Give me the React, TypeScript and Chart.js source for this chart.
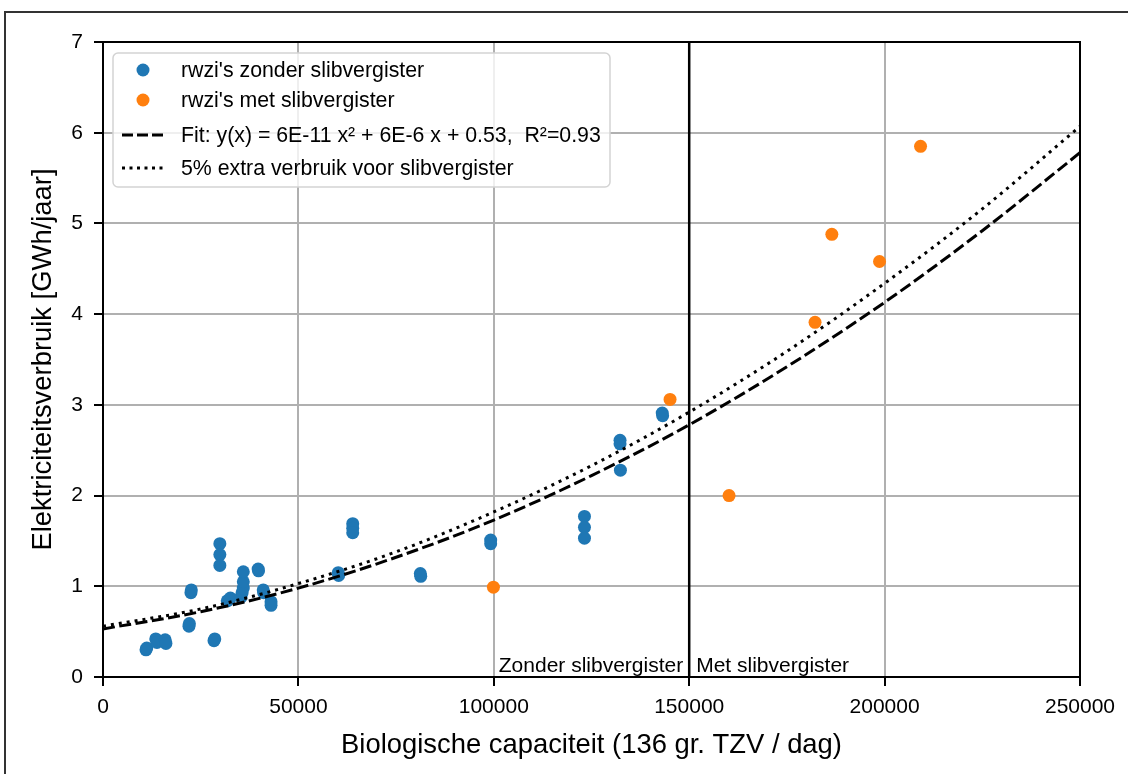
import React, { useEffect, useRef } from "react";
import { Chart, registerables } from "chart.js";

Chart.register(...registerables);

// rwzi's zonder slibvergister
const zonderX = [
  11000, 11200, 13500, 13800, 15900, 16100, 22000, 22100, 22500, 22600,
  28400, 28600, 29900, 29900, 29900, 31800, 32600, 35300, 35600, 35900,
  35900, 35900, 39700, 39800, 41000, 41100, 43000, 43000, 60200, 60300,
  63900, 63900, 63900, 81200, 81300, 99200, 99200, 123200, 123200, 123200,
  132300, 132300, 132400, 143100, 143200,
];
const zonderY = [
  0.30, 0.32, 0.42, 0.38, 0.41, 0.37, 0.56, 0.59, 0.93, 0.96,
  0.40, 0.42, 1.47, 1.35, 1.23, 0.84, 0.87, 0.88, 0.93, 0.98,
  1.05, 1.16, 1.19, 1.17, 0.96, 0.93, 0.83, 0.79, 1.15, 1.12,
  1.69, 1.64, 1.59, 1.14, 1.11, 1.51, 1.47, 1.77, 1.65, 1.53,
  2.61, 2.57, 2.28, 2.91, 2.88,
];

// rwzi's met slibvergister
const metX = [99900, 145100, 160200, 182200, 186500, 198700, 209200];
const metY = [0.99, 3.06, 2.0, 3.91, 4.88, 4.58, 5.85];

// curves
const curveX = [0, 25000, 50000, 75000, 100000, 125000, 150000, 175000, 200000, 225000, 250000];
const fitY = [0.53, 0.72, 0.98, 1.32, 1.73, 2.22, 2.78, 3.42, 4.13, 4.92, 5.78];
const extraY = [0.56, 0.75, 1.03, 1.38, 1.82, 2.33, 2.92, 3.59, 4.34, 5.16, 6.07];

const splitX = 150000;
const xMin = 0;
const xMax = 250000;
const xStep = 50000;
const yMin = 0;
const yMax = 7;
const yStep = 1;

const labelZonder = "rwzi's zonder slibvergister";
const labelMet = "rwzi's met slibvergister";
const labelFit = "Fit: y(x) = 6E-11 x\u00B2 + 6E-6 x + 0.53,  R\u00B2=0.93";
const labelExtra = "5% extra verbruik voor slibvergister";
const leftText = "Zonder slibvergister";
const rightText = "Met slibvergister";
const xTitle = "Biologische capaciteit (136 gr. TZV / dag)";
const yTitle = "Elektriciteitsverbruik [GWh/jaar]";

const FONT = "'Liberation Sans', Arial, Helvetica, sans-serif";
const BLUE = "#1f77b4";
const ORANGE = "#ff7f0e";
const DASH = [12, 4.5];
const DOT = [3, 5];

const framePlugin = {
  id: "frameAndLabels",
  afterDatasetsDraw(chart: any) {
    const { ctx, chartArea } = chart;
    const xs = chart.scales.x;
    ctx.save();
    ctx.strokeStyle = "#000";
    ctx.lineWidth = 2;
    ctx.strokeRect(chartArea.left, chartArea.top, chartArea.right - chartArea.left, chartArea.bottom - chartArea.top);
    const px = xs.getPixelForValue(splitX);
    ctx.fillStyle = "#000";
    ctx.font = `21px ${FONT}`;
    ctx.textBaseline = "alphabetic";
    ctx.textAlign = "right";
    ctx.fillText(leftText, px - 6, chartArea.bottom - 5);
    ctx.textAlign = "left";
    ctx.fillText(rightText, px + 7, chartArea.bottom - 5);
    ctx.restore();
  },
  afterDraw(chart: any) {
    const { ctx, chartArea } = chart;
    const x0 = chartArea.left + 10;
    const y0 = chartArea.top + 11;
    const w = 497;
    const h = 134;
    const r = 5;
    ctx.save();
    ctx.beginPath();
    ctx.moveTo(x0 + r, y0);
    ctx.arcTo(x0 + w, y0, x0 + w, y0 + h, r);
    ctx.arcTo(x0 + w, y0 + h, x0, y0 + h, r);
    ctx.arcTo(x0, y0 + h, x0, y0, r);
    ctx.arcTo(x0, y0, x0 + w, y0, r);
    ctx.closePath();
    ctx.fillStyle = "rgba(255,255,255,0.8)";
    ctx.fill();
    ctx.strokeStyle = "#d3d3d3";
    ctx.lineWidth = 1.5;
    ctx.stroke();

    const rows = [
      { label: labelZonder, kind: "dot", color: BLUE, dy: 28 },
      { label: labelMet, kind: "dot", color: ORANGE, dy: 58 },
      { label: labelFit, kind: "dash", color: "#000", dy: 93 },
      { label: labelExtra, kind: "dot-line", color: "#000", dy: 126 },
    ];
    ctx.font = `21.3px ${FONT}`;
    ctx.textBaseline = "middle";
    ctx.textAlign = "left";
    for (const row of rows) {
      const cy = chartArea.top + row.dy;
      if (row.kind === "dot") {
        ctx.beginPath();
        ctx.fillStyle = row.color;
        ctx.arc(x0 + 30, cy, 6.5, 0, Math.PI * 2);
        ctx.fill();
      } else {
        ctx.beginPath();
        ctx.strokeStyle = row.color;
        ctx.lineWidth = 3;
        ctx.setLineDash(row.kind === "dash" ? [11, 4] : [3, 4.5]);
        ctx.moveTo(x0 + 9, cy);
        ctx.lineTo(x0 + 51, cy);
        ctx.stroke();
        ctx.setLineDash([]);
      }
      ctx.fillStyle = "#000";
      ctx.fillText(row.label, x0 + 68, cy + 1);
    }
    ctx.restore();
  },
};

export default function App() {
  const ref = useRef<HTMLCanvasElement | null>(null);

  useEffect(() => {
    if (!ref.current) return;
    const chart = new Chart(ref.current, {
      type: "scatter",
      data: {
        datasets: [
          {
            label: labelFit,
            data: curveX.map((x, i) => ({ x, y: fitY[i] })),
            showLine: true,
            borderColor: "#000",
            borderWidth: 3,
            borderDash: DASH,
            pointRadius: 0,
            cubicInterpolationMode: "monotone",
            order: 1,
          },
          {
            label: labelExtra,
            data: curveX.map((x, i) => ({ x, y: extraY[i] })),
            showLine: true,
            borderColor: "#000",
            borderWidth: 3,
            borderDash: DOT,
            pointRadius: 0,
            cubicInterpolationMode: "monotone",
            order: 1,
          },
          {
            label: "split",
            data: [
              { x: splitX, y: yMin },
              { x: splitX, y: yMax },
            ],
            showLine: true,
            borderColor: "#000",
            borderWidth: 2.5,
            pointRadius: 0,
            tension: 0,
            order: 0,
          },
          {
            label: labelZonder,
            data: zonderX.map((x, i) => ({ x, y: zonderY[i] })),
            backgroundColor: BLUE,
            borderColor: BLUE,
            borderWidth: 0,
            pointRadius: 6.5,
            order: 2,
          },
          {
            label: labelMet,
            data: metX.map((x, i) => ({ x, y: metY[i] })),
            backgroundColor: ORANGE,
            borderColor: ORANGE,
            borderWidth: 0,
            pointRadius: 6.5,
            order: 2,
          },
        ],
      },
      options: {
        responsive: false,
        animation: false,
        layout: { padding: { left: 0, right: 48, top: 42, bottom: 0 } },
        plugins: {
          legend: { display: false },
          tooltip: { enabled: false },
        },
        scales: {
          x: {
            type: "linear",
            min: xMin,
            max: xMax,
            ticks: {
              stepSize: xStep,
              color: "#000",
              font: { family: FONT, size: 21 },
              padding: 9,
              maxRotation: 0,
              callback: (v: any) => String(v),
            },
            grid: { color: "#b0b0b0", lineWidth: 2, tickColor: "#000", tickLength: 9, tickWidth: 2 },
            border: { display: false },
            title: {
              display: true,
              text: xTitle,
              color: "#000",
              font: { family: FONT, size: 27.4 },
              padding: { top: 0, bottom: 12 },
            },
            afterFit: (s: any) => {
              s.height = 97;
            },
          },
          y: {
            type: "linear",
            min: yMin,
            max: yMax,
            ticks: {
              stepSize: yStep,
              color: "#000",
              font: { family: FONT, size: 21 },
              padding: 11,
            },
            grid: { color: "#b0b0b0", lineWidth: 2, tickColor: "#000", tickLength: 9, tickWidth: 2 },
            border: { display: false },
            title: {
              display: true,
              text: yTitle,
              color: "#000",
              font: { family: FONT, size: 27.4 },
              padding: { top: 27, bottom: 0 },
            },
            afterFit: (s: any) => {
              s.width = 103;
            },
          },
        },
      },
      plugins: [framePlugin],
    });
    return () => chart.destroy();
  }, []);

  return (
    <div style={{ position: "fixed", left: 0, top: 0, width: 1128, height: 774, overflow: "hidden", background: "#fff" }}>
      <div
        style={{
          position: "absolute",
          left: 4,
          top: 11,
          width: 1200,
          height: 900,
          border: "2px solid #333",
          boxSizing: "border-box",
        }}
      />
      <canvas ref={ref} width={1128} height={774} style={{ position: "absolute", left: 0, top: 0, width: 1128, height: 774 }} />
    </div>
  );
}
